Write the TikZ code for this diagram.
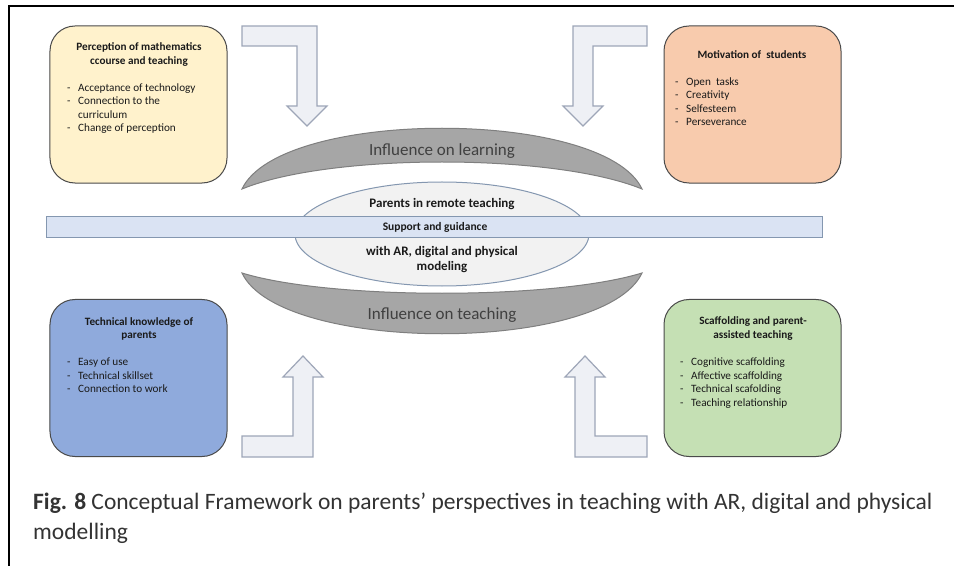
\documentclass[tikz,border=0pt]{standalone}
\usepackage{fontspec}
\setmainfont{Carlito}
\usetikzlibrary{shapes.geometric}
\definecolor{yellowfill}{HTML}{FFF2CC}
\definecolor{orangefill}{HTML}{F8CBAD}
\definecolor{bluefill}{HTML}{8FAADC}
\definecolor{greenfill}{HTML}{C5E0B4}
\definecolor{boxline}{HTML}{4A4A4A}
\definecolor{arrowfill}{HTML}{EEF0F5}
\definecolor{arrowline}{HTML}{9EA6B8}
\definecolor{cresfill}{HTML}{A6A6A6}
\definecolor{cresline}{HTML}{7F7F7F}
\definecolor{hubfill}{HTML}{F2F2F2}
\definecolor{hubline}{HTML}{8497B0}
\definecolor{bandfill}{HTML}{DAE3F3}
\definecolor{txt}{HTML}{1A1A1A}
\definecolor{captxt}{HTML}{333333}
\tikzset{
  box/.style={draw=boxline, line width=1bp, rounded corners=25bp, minimum width=177bp, minimum height=157bp, inner sep=0},
  btitle/.style={font=\fontsize{11.2bp}{13.5bp}\selectfont\bfseries, text=txt, anchor=base, inner sep=0},
  bitem/.style={font=\fontsize{11.2bp}{13.5bp}\selectfont, text=txt, anchor=base west, inner sep=0},
  bigarrow/.style={draw=arrowline, fill=arrowfill, line width=1.2bp, line join=miter},
  cres/.style={draw=cresline, fill=cresfill, line width=1bp},
  creslabel/.style={font=\fontsize{17bp}{20bp}\selectfont, text=black!75, anchor=base, inner sep=0},
  hublabel/.style={font=\fontsize{13bp}{15bp}\selectfont\bfseries, text=txt, anchor=base, inner sep=0},
  caplabel/.style={font=\fontsize{23.5bp}{28bp}\selectfont, text=captxt, anchor=base west, inner sep=0}
}
\newcommand{\dashitem}[1]{\makebox[11bp][l]{-}#1}
\begin{document}
\begin{tikzpicture}[x=1bp,y=-1bp]
\useasboundingbox (0,0) rectangle (954,566);
\fill[white] (0,0) rectangle (954,566);
% frame
\draw[line width=2.5bp] (954,6) -- (9,6) -- (9,566);

% corner boxes
\node[box, fill=yellowfill] (perc) at (138.5,104.5) {};
\node[box, fill=orangefill] (motiv) at (752.5,104.5) {};
\node[box, fill=bluefill] (tech) at (138.5,378) {};
\node[box, fill=greenfill] (scaf) at (752.5,378) {};

% yellow box text
\node[btitle] (perc-t1) at (139,50.5) {Perception of mathematics};
\node[btitle] (perc-t2) at (139,65) {ccourse and teaching};
\node[bitem] (perc-1) at (67,91.5) {\dashitem{Acceptance of technology}};
\node[bitem] (perc-2) at (67,105) {\dashitem{Connection to the}};
\node[bitem] (perc-3) at (78,118.5) {curriculum};
\node[bitem] (perc-4) at (67,132) {\dashitem{Change of perception}};

% orange box text
\node[btitle] (motiv-t) at (752,58.5) {Motivation of\ \ students};
\node[bitem] (motiv-1) at (675,85.5) {\dashitem{Open\ \ tasks}};
\node[bitem] (motiv-2) at (675,99) {\dashitem{Creativity}};
\node[bitem] (motiv-3) at (675,112.5) {\dashitem{Selfesteem}};
\node[bitem] (motiv-4) at (675,126) {\dashitem{Perseverance}};

% blue box text
\node[btitle] (tech-t1) at (139,325.5) {Technical knowledge of};
\node[btitle] (tech-t2) at (139,338.5) {parents};
\node[bitem] (tech-1) at (67,365.5) {\dashitem{Easy of use}};
\node[bitem] (tech-2) at (67,379) {\dashitem{Technical skillset}};
\node[bitem] (tech-3) at (67,392.5) {\dashitem{Connection to work}};

% green box text
\node[btitle] (scaf-t1) at (753,324.5) {Scaffolding and parent-};
\node[btitle] (scaf-t2) at (753,338) {assisted teaching};
\node[bitem] (scaf-1) at (680,365.5) {\dashitem{Cognitive scaffolding}};
\node[bitem] (scaf-2) at (680,379) {\dashitem{Affective scaffolding}};
\node[bitem] (scaf-3) at (680,392.5) {\dashitem{Technical scafolding}};
\node[bitem] (scaf-4) at (680,406) {\dashitem{Teaching relationship}};

% bent arrows
\draw[bigarrow] (242,26) -- (317,26) -- (317,106) -- (327,106) -- (307,126) -- (287,106) -- (297,106) -- (297,46) -- (242,46) -- cycle;
\draw[bigarrow] (647,26) -- (573,26) -- (573,106) -- (563,106) -- (583,126) -- (603,106) -- (593,106) -- (593,46) -- (647,46) -- cycle;
\draw[bigarrow] (242,457) -- (313,457) -- (313,377) -- (323,377) -- (303,356) -- (283,377) -- (293,377) -- (293,436) -- (242,436) -- cycle;
\draw[bigarrow] (647,457) -- (575,457) -- (575,377) -- (565,377) -- (585,356) -- (605,377) -- (595,377) -- (595,436) -- (647,436) -- cycle;

% crescents
\draw[cres] (242,189) .. controls (280,108) and (604,108) .. (642,189) .. controls (554,153) and (330,153) .. (242,189) -- cycle;
\draw[cres] (242,273) .. controls (280,354) and (604,354) .. (642,273) .. controls (554,300) and (330,300) .. (242,273) -- cycle;
\node[creslabel] (learn) at (442,155.5) {Influence on learning};
\node[creslabel] (teach) at (442,319.5) {Influence on teaching};

% hub ellipse and band
\node[ellipse, draw=hubline, fill=hubfill, line width=1bp, minimum width=294bp, minimum height=104bp, inner sep=0] (hub) at (442,234) {};
\node[draw=hubline, fill=bandfill, line width=1bp, minimum width=775bp, minimum height=21bp, inner sep=0] (band) at (434.5,227) {};
\node[hublabel, font=\fontsize{11.5bp}{13bp}\selectfont\bfseries] (band-t) at (435,231) {Support and guidance};
\node[hublabel] (hub-t1) at (442,208) {Parents in remote teaching};
\node[hublabel] (hub-t2) at (442,256) {with AR, digital and physical};
\node[hublabel] (hub-t3) at (442,271) {modeling};

% caption
\node[caplabel] (cap1) at (33,509.5) {\textbf{Fig. 8} Conceptual Framework on parents’ perspectives in teaching with AR, digital and physical};
\node[caplabel] (cap2) at (33,539.5) {modelling};
\end{tikzpicture}
\end{document}
